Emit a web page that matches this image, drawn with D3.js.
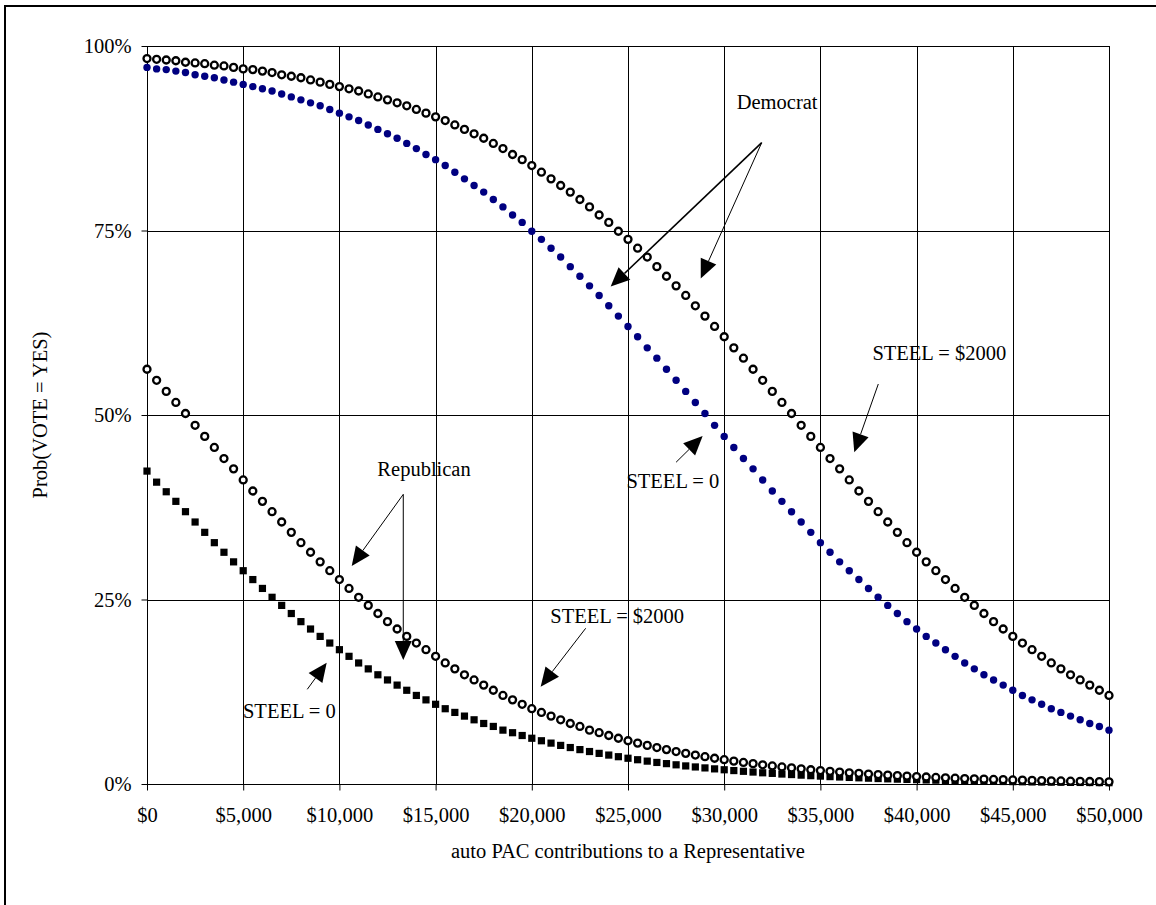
<!DOCTYPE html>
<html>
<head>
<meta charset="utf-8">
<script src="https://cdn.jsdelivr.net/npm/d3@7"></script>
<style>
  html, body { margin: 0; padding: 0; background: #fff; }
  svg { display: block; }
  text { font-family: "Liberation Serif", "Times New Roman", serif; fill: #000; }
</style>
</head>
<body>
<svg id="chart" width="1156" height="905"></svg>
<script>
// ---------------- DATA ----------------
// x: auto PAC contributions ($), every $500 from 0 to 50,000
const contributions = d3.range(0, 50001, 500);

const demSteel2000 = [
0.983,0.982,0.981,0.980,0.978,0.977,0.976,0.974,0.973,0.971,
0.969,0.968,0.966,0.964,0.961,0.959,0.957,0.954,0.951,0.948,
0.945,0.942,0.939,0.935,0.931,0.927,0.923,0.919,0.914,0.909,
0.904,0.899,0.893,0.887,0.881,0.875,0.868,0.861,0.853,0.846,
0.838,0.829,0.820,0.811,0.802,0.792,0.782,0.771,0.761,0.749,
0.738,0.726,0.714,0.701,0.688,0.675,0.662,0.648,0.634,0.620,
0.606,0.591,0.577,0.562,0.547,0.532,0.517,0.502,0.486,0.471,
0.456,0.441,0.427,0.412,0.397,0.383,0.369,0.355,0.341,0.327,
0.314,0.301,0.289,0.277,0.265,0.253,0.242,0.231,0.220,0.210,
0.200,0.191,0.182,0.173,0.164,0.156,0.148,0.141,0.134,0.127,
0.120];

const demSteel0 = [
0.971,
0.969,0.968,0.966,0.964,0.961,0.959,0.957,0.954,0.951,0.948,
0.945,0.942,0.939,0.935,0.931,0.927,0.923,0.919,0.914,0.909,
0.904,0.899,0.893,0.887,0.881,0.875,0.868,0.861,0.853,0.846,
0.838,0.829,0.820,0.811,0.802,0.792,0.782,0.771,0.761,0.749,
0.738,0.726,0.714,0.701,0.688,0.675,0.662,0.648,0.634,0.620,
0.606,0.591,0.577,0.562,0.547,0.532,0.517,0.502,0.486,0.471,
0.456,0.441,0.427,0.412,0.397,0.383,0.369,0.355,0.341,0.327,
0.314,0.301,0.289,0.277,0.265,0.253,0.242,0.231,0.220,0.210,
0.200,0.191,0.182,0.173,0.164,0.156,0.148,0.141,0.134,0.127,
0.120,0.114,0.108,0.102,0.097,0.092,0.087,0.082,0.078,0.073];

const repSteel2000 = [
0.562,0.547,0.532,0.517,0.502,0.486,0.471,
0.456,0.441,0.427,0.412,0.397,0.383,0.369,0.355,0.341,0.327,
0.314,0.301,0.289,0.277,0.265,0.253,0.242,0.231,0.220,0.210,
0.200,0.191,0.182,0.173,0.164,0.156,0.148,0.141,0.134,0.127,
0.120,0.114,0.108,0.102,0.097,0.092,0.087,0.082,0.078,0.073,
0.0695,0.0657,0.0620,0.0586,0.0554,0.0523,0.0494,0.0466,0.0440,0.0415,
0.0392,0.0370,0.0349,0.0329,0.0310,0.0292,0.0276,0.0260,0.0245,0.0231,
0.0218,0.0205,0.0193,0.0182,0.0172,0.0162,0.0152,0.0144,0.0135,0.0128,
0.0120,0.0113,0.0107,0.0100,0.0095,0.0089,0.0084,0.0079,0.0074,0.0070,
0.0066,0.0062,0.0059,0.0055,0.0052,0.0049,0.0046,0.0043,0.0041,0.0038,
0.0036,0.0034,0.0032,0.0030];

const repSteel0 = [
0.424,0.409,0.396,0.383,0.369,0.355,0.341,0.327,
0.314,0.301,0.289,0.277,0.265,0.253,0.242,0.231,0.220,0.210,
0.200,0.191,0.182,0.173,0.164,0.156,0.148,0.141,0.134,0.127,
0.120,0.114,0.108,0.102,0.097,0.092,0.087,0.082,0.078,0.073,
0.0695,0.0657,0.0620,0.0586,0.0554,0.0523,0.0494,0.0466,0.0440,0.0415,
0.0392,0.0370,0.0349,0.0329,0.0310,0.0292,0.0276,0.0260,0.0245,0.0231,
0.0218,0.0205,0.0193,0.0182,0.0172,0.0162,0.0152,0.0144,0.0135,0.0128,
0.0120,0.0113,0.0107,0.0100,0.0095,0.0089,0.0084,0.0079,0.0074,0.0070,
0.0066,0.0062,0.0059,0.0055,0.0052,0.0049,0.0046,0.0043,0.0041,0.0038,
0.0036,0.0034,0.0032,0.0030,0.0028,0.0027,0.0025,0.0024,0.0022,0.0021,
0.0020,0.0019,0.0018];

const xTicks = [0, 5000, 10000, 15000, 20000, 25000, 30000, 35000, 40000, 45000, 50000];
const xTickLabels = ["$0","$5,000","$10,000","$15,000","$20,000","$25,000","$30,000","$35,000","$40,000","$45,000","$50,000"];
const yTicks = [0, 0.25, 0.5, 0.75, 1];
const yTickLabels = ["0%","25%","50%","75%","100%"];

const xTitle = "auto PAC contributions to a Representative";
const yTitle = "Prob(VOTE = YES)";

// annotation labels (data units)
const labelTexts = ["Democrat", "STEEL = 0", "STEEL = $2000", "Republican", "STEEL = $2000", "STEEL = 0"];
const labelX     = [32750, 27330, 41180, 14400, 24440, 7400];
const labelY     = [0.915, 0.401, 0.5745, 0.417, 0.218, 0.0894];
// arrows (data units): from -> tip, plus line weight
const arrowFromX = [31950, 31950, 27500, 38010, 13320, 13320, 22800, 8330];
const arrowFromY = [0.869, 0.869, 0.436, 0.542, 0.3925, 0.3925, 0.211, 0.1283];
const arrowToX   = [24100, 28780, 28880, 36760, 10640, 13320, 20460, 9340];
const arrowToY   = [0.674, 0.685, 0.4715, 0.4495, 0.2954, 0.168, 0.1318, 0.1644];
const arrowWidth = [1.6, 1, 1, 1, 1, 1, 1, 1];

// ---------------- CHART ----------------
const svg = d3.select("#chart");
const x = d3.scaleLinear().domain([0, 50000]).range([147, 1109]);
const y = d3.scaleLinear().domain([0, 1]).range([784, 46]);
const FONT = 20.5;

// outer frame (left + top visible)
svg.append("path")
  .attr("d", "M5,905 L5,6 L1156,6")
  .attr("fill", "none").attr("stroke", "#000").attr("stroke-width", 2);

// grid
const grid = svg.append("g");
grid.selectAll("line.v").data(xTicks).join("line")
  .attr("x1", d => Math.round(x(d)) + 0.5).attr("x2", d => Math.round(x(d)) + 0.5)
  .attr("y1", y(1)).attr("y2", y(0))
  .attr("stroke", "#000").attr("stroke-width", 1);
grid.selectAll("line.h").data(yTicks).join("line")
  .attr("y1", d => Math.round(y(d)) + 0.5).attr("y2", d => Math.round(y(d)) + 0.5)
  .attr("x1", x(0)).attr("x2", x(50000))
  .attr("stroke", "#000").attr("stroke-width", 1);

// axes
const xAxis = d3.axisBottom(x).tickValues(xTicks)
  .tickFormat((d, i) => xTickLabels[i]).tickSize(6).tickPadding(17);
const gx = svg.append("g").attr("transform", `translate(0,${Math.round(y(0)) + 0.5})`).call(xAxis);
gx.select(".domain").remove();
gx.selectAll("line").attr("stroke", "#000");
gx.selectAll("text").attr("font-size", FONT).attr("font-family", "Liberation Serif");

const yAxis = d3.axisLeft(y).tickValues(yTicks)
  .tickFormat((d, i) => yTickLabels[i]).tickSize(6).tickPadding(10);
const gy = svg.append("g").attr("transform", `translate(${Math.round(x(0)) + 0.5},0)`).call(yAxis);
gy.select(".domain").remove();
gy.selectAll("line").attr("stroke", "#000");
gy.selectAll("text").attr("font-size", FONT).attr("font-family", "Liberation Serif");

// axis titles
svg.append("text").attr("x", 628).attr("y", 858).attr("text-anchor", "middle")
  .attr("font-size", FONT).text(xTitle);
svg.append("text").attr("transform", "translate(47,415) rotate(-90)")
  .attr("text-anchor", "middle").attr("font-size", FONT).text(yTitle);

// series
const pts = (arr) => arr.map((v, i) => ({ x: contributions[i], y: v }));

// Republican STEEL = 0 : black squares
svg.append("g").selectAll("rect").data(pts(repSteel0)).join("rect")
  .attr("x", d => x(d.x) - 3.6).attr("y", d => y(d.y) - 3.6)
  .attr("width", 7.2).attr("height", 7.2).attr("fill", "#000");

// Democrat STEEL = 0 : navy dots
svg.append("g").selectAll("circle").data(pts(demSteel0)).join("circle")
  .attr("cx", d => x(d.x)).attr("cy", d => y(d.y)).attr("r", 3.7)
  .attr("fill", "#000080");

// STEEL = $2000 : open circles
[repSteel2000, demSteel2000].forEach(arr => {
  svg.append("g").selectAll("circle").data(pts(arr)).join("circle")
    .attr("cx", d => x(d.x)).attr("cy", d => y(d.y)).attr("r", 3.5)
    .attr("fill", "#fff").attr("stroke", "#000").attr("stroke-width", 2.3);
});

// annotations
const ann = svg.append("g");
arrowFromX.forEach((fx, i) => {
  const x1 = x(fx), y1 = y(arrowFromY[i]), x2 = x(arrowToX[i]), y2 = y(arrowToY[i]);
  const ang = Math.atan2(y2 - y1, x2 - x1);
  const L = 19, W = 8.5;
  const bx = x2 - L * Math.cos(ang), by = y2 - L * Math.sin(ang);
  ann.append("line").attr("x1", x1).attr("y1", y1).attr("x2", bx).attr("y2", by)
    .attr("stroke", "#000").attr("stroke-width", arrowWidth[i]);
  const px = -Math.sin(ang), py = Math.cos(ang);
  ann.append("path")
    .attr("d", `M${x2},${y2} L${bx + W * px},${by + W * py} L${bx - W * px},${by - W * py} Z`)
    .attr("fill", "#000");
});
labelTexts.forEach((t, i) => {
  ann.append("text").attr("x", x(labelX[i])).attr("y", y(labelY[i]))
    .attr("text-anchor", "middle").attr("font-size", FONT).text(t);
});
</script>
</body>
</html>
